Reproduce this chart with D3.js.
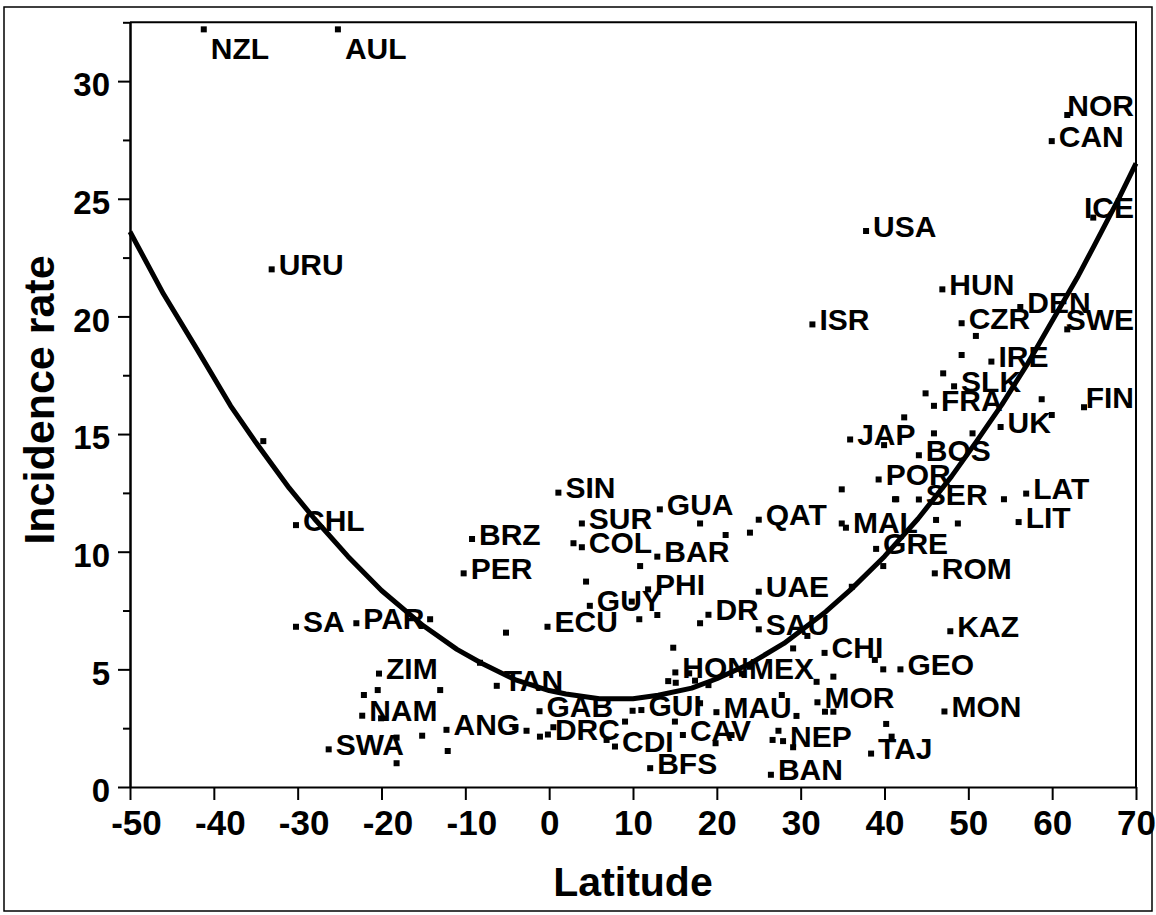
<!DOCTYPE html>
<html>
<head>
<meta charset="utf-8">
<script src="https://cdn.jsdelivr.net/npm/d3@7"></script>
<style>
  body { margin: 0; background: #fff; }
  svg { font-family: "Liberation Sans", Arial, sans-serif; font-weight: bold; }
  .axis path, .axis line { stroke: #000; stroke-width: 2; }
  .axis text { fill: #000; font-family: "Liberation Sans", Arial, sans-serif; font-weight: bold; }
</style>
</head>
<body>
<svg width="1156" height="915"></svg>
<script>
// **** Data ****
// labelled countries
var countries = ['NZL', 'AUL', 'URU', 'CHL', 'SA', 'PAR', 'BRZ', 'PER', 'ECU', 'SIN',
    'SUR', 'COL', 'GUA', 'BAR', 'PHI', 'GUY', 'DR', 'UAE', 'SAU', 'QAT',
    'MAL', 'GRE', 'POR', 'SER', 'JAP', 'BOS', 'FRA', 'SLK', 'IRE', 'UK',
    'LAT', 'LIT', 'ROM', 'KAZ', 'GEO', 'MON', 'TAJ', 'CHI', 'MOR', 'MEX',
    'HON', 'MAU', 'GUI', 'CAV', 'NEP', 'BAN', 'BFS', 'CDI', 'DRC', 'GAB',
    'TAN', 'ANG', 'ZIM', 'NAM', 'SWA', 'USA', 'HUN', 'ISR', 'CZR', 'DEN',
    'SWE', 'NOR', 'CAN', 'ICE', 'FIN'];
var countryLat = [-41.2, -25.2, -33.1, -30.2, -30.2, -23.0, -9.2, -10.2, -0.2, 1.1,
    3.9, 3.9, 13.2, 12.9, 11.8, 4.85, 19.0, 25.0, 25.0, 25.0,
    35.4, 39.0, 39.3, 44.1, 35.9, 44.1, 45.9, 48.3, 52.75, 53.85,
    56.9, 56.0, 46.0, 47.85, 41.9, 47.15, 38.4, 32.85, 32.0, 23.0,
    15.05, 19.95, 11.0, 15.95, 27.9, 26.45, 12.05, 7.85, -0.15, -1.15,
    -6.25, -12.25, -20.3, -22.3, -26.3, 37.8, 46.9, 31.4, 49.2, 56.2,
    61.8, 61.8, 59.95, 64.9, 63.8];
var countryRate = [32.2, 32.2, 22.0, 11.13, 6.81, 6.96, 10.54, 9.08, 6.81, 12.51,
    11.2, 10.19, 11.8, 9.79, 8.4, 7.7, 7.32, 8.3, 6.7, 11.36,
    11.02, 10.12, 13.07, 12.22, 14.77, 14.1, 16.2, 17.03, 18.08, 15.3,
    12.47, 11.26, 9.08, 6.62, 5.0, 3.21, 1.42, 5.7, 3.6, 4.82,
    4.87, 3.18, 3.27, 2.21, 1.95, 0.52, 0.8, 1.72, 2.23, 3.22,
    4.3, 2.43, 4.82, 3.03, 1.6, 23.63, 21.15, 19.66, 19.71, 20.4,
    19.45, 28.56, 27.45, 24.2, 16.14];

// unlabelled countries
var otherLat = [-34.1, -14.2, -5.15, 2.9, 4.4, 9.85, 10.75, 12.9, 18.0, 21.05,
    23.95, 34.9, 41.25, 34.9, 39.85, 10.85, 18.0, 30.8, 29.1, 14.8,
    36.1, 47.0, 44.9, 58.75, 59.95, 42.35, 39.95, 45.9, 50.5, 41.4,
    54.25, 46.15, 48.75, 50.9, 49.2, -20.45, -22.1, -13.0, -20.05, -18.2,
    -18.2, -15.15, -12.1, -8.25, -4.05, -2.7, -1.1, 14.2, 15.1, 16.7,
    17.4, 19.0, 23.95, 38.85, 39.85, 33.9, 31.9, 32.9, 33.9, 27.75,
    29.5, 9.95, 18.0, 15.0, 19.85, 21.75, 26.65, 27.35, 29.1, 6.85,
    9.05, 0.5, 40.2, 40.85];
var otherRate = [14.7, 7.13, 6.56, 10.36, 8.73, 7.88, 7.13, 7.31, 11.2, 10.71,
    10.81, 12.65, 12.23, 11.2, 9.39, 9.39, 6.96, 6.42, 5.89, 5.92,
    8.51, 17.58, 16.73, 16.48, 15.81, 15.71, 14.53, 15.03, 15.03, 12.23,
    12.23, 11.35, 11.2, 19.17, 18.36, 4.12, 3.91, 4.12, 2.92, 1.01,
    2.1, 2.18, 1.53, 5.28, 2.54, 2.39, 2.14, 4.5, 4.43, 4.83,
    4.52, 4.33, 5.11, 5.4, 5.0, 4.69, 4.47, 3.2, 3.2, 3.91,
    3.02, 3.24, 3.56, 2.78, 1.86, 2.21, 2.0, 2.39, 1.69, 2.0,
    2.78, 2.54, 2.68, 2.14];

// fitted curve, read along its length
var fitLat = [-50, -46, -42, -38, -35, -31, -28, -24, -20, -15, -11, -8, -4, 0, 2, 6,
    10, 13, 17, 20, 24, 28, 33, 36, 40, 44, 48, 51, 54, 57, 60, 63, 65, 68, 70];
var fitRate = [23.6, 20.95, 18.6, 16.2, 14.65, 12.7, 11.4, 9.8, 8.35, 6.85, 5.85, 5.25, 4.55, 4.1, 3.95, 3.75,
    3.75, 3.9, 4.2, 4.6, 5.25, 6.1, 7.45, 8.4, 9.8, 11.4, 13.2, 14.7, 16.25, 17.95, 19.8, 21.65, 23.0, 25.05, 26.5];

var xTicks = [-50, -40, -30, -20, -10, 0, 10, 20, 30, 40, 50, 60, 70];
var yTicks = [0, 5, 10, 15, 20, 25, 30];
var yMinorTicks = [2.5, 7.5, 12.5, 17.5, 22.5, 27.5, 32.5];

// **** Scales ****
var latScale = d3.scaleLinear().domain([-50, 70]).range([130, 1136]);
var rateScale = d3.scaleLinear().domain([0, 32.5]).range([787, 22.3]);

var svg = d3.select('svg');

// outer frame
svg.append('rect')
    .attr('x', 4).attr('y', 7)
    .attr('width', 1148).attr('height', 904)
    .attr('fill', 'none').attr('stroke', '#000').attr('stroke-width', 1.5);

// plot box (top and right)
svg.append('path')
    .attr('d', 'M130,22.3H1136V787')
    .attr('fill', 'none').attr('stroke', '#000').attr('stroke-width', 2);

// **** Axes ****
svg.append('g').attr('class', 'x axis')
    .attr('transform', 'translate(0,787)')
    .call(d3.axisBottom(latScale).tickValues(xTicks).tickSize(13).tickSizeOuter(0).tickPadding(10)
        .tickFormat(function(d) { return String(d); }))
    .call(function(g) {
        g.selectAll('text')
            .style('font-size', '35px')
            .attr('dx', function(d) { return d < 0 ? 6 : 0; });
    });

svg.append('g').attr('class', 'y axis')
    .attr('transform', 'translate(130,0)')
    .call(d3.axisLeft(rateScale).tickValues(yMinorTicks).tickSize(7).tickSizeOuter(0).tickFormat(''));

svg.append('g').attr('class', 'y axis')
    .attr('transform', 'translate(130,0)')
    .call(d3.axisLeft(rateScale).tickValues(yTicks).tickSize(12).tickSizeOuter(0).tickPadding(8))
    .call(function(g) {
        g.selectAll('text').style('font-size', '33px').attr('dy', '0.45em');
    });

// axis titles
svg.append('text')
    .attr('x', 633).attr('y', 896)
    .attr('text-anchor', 'middle')
    .style('font-size', '41px')
    .text('Latitude');

svg.append('text')
    .attr('transform', 'translate(54,400) rotate(-90)')
    .attr('text-anchor', 'middle')
    .style('font-size', '43px')
    .text('Incidence rate');

// **** Fitted curve ****
var line = d3.line()
    .x(function(d) { return latScale(d[0]); })
    .y(function(d) { return rateScale(d[1]); });

svg.append('path')
    .datum(d3.zip(fitLat, fitRate))
    .attr('d', line)
    .attr('fill', 'none')
    .attr('stroke', '#000')
    .attr('stroke-width', 5)
    .attr('stroke-linejoin', 'round');

// **** Points ****
var labelled = countries.map(function(c, i) {
    return { name: c, lat: countryLat[i], rate: countryRate[i] };
});
var others = otherLat.map(function(l, i) {
    return { lat: l, rate: otherRate[i] };
});

svg.selectAll('rect.pt').data(labelled.concat(others)).enter().append('rect')
    .attr('class', 'pt')
    .attr('x', function(d) { return latScale(d.lat) - 3; })
    .attr('y', function(d) { return rateScale(d.rate) - 3; })
    .attr('width', 6).attr('height', 6)
    .attr('fill', '#000');

// labels to the right of their point, kept inside the plot box
svg.selectAll('text.lbl').data(labelled).enter().append('text')
    .attr('class', 'lbl')
    .style('font-size', '30px')
    .text(function(d) { return d.name; })
    .each(function(d) {
        var w = this.getComputedTextLength();
        var x = latScale(d.lat) + 7;
        var y = rateScale(d.rate) + 5.5;
        if (x + w > 1134) { x = 1134 - w; y = rateScale(d.rate) + 0.5; }
        if (y - 22 < 22.3) { y = rateScale(d.rate) + 30; }
        d3.select(this).attr('x', x).attr('y', y);
    });
</script>
</body>
</html>
